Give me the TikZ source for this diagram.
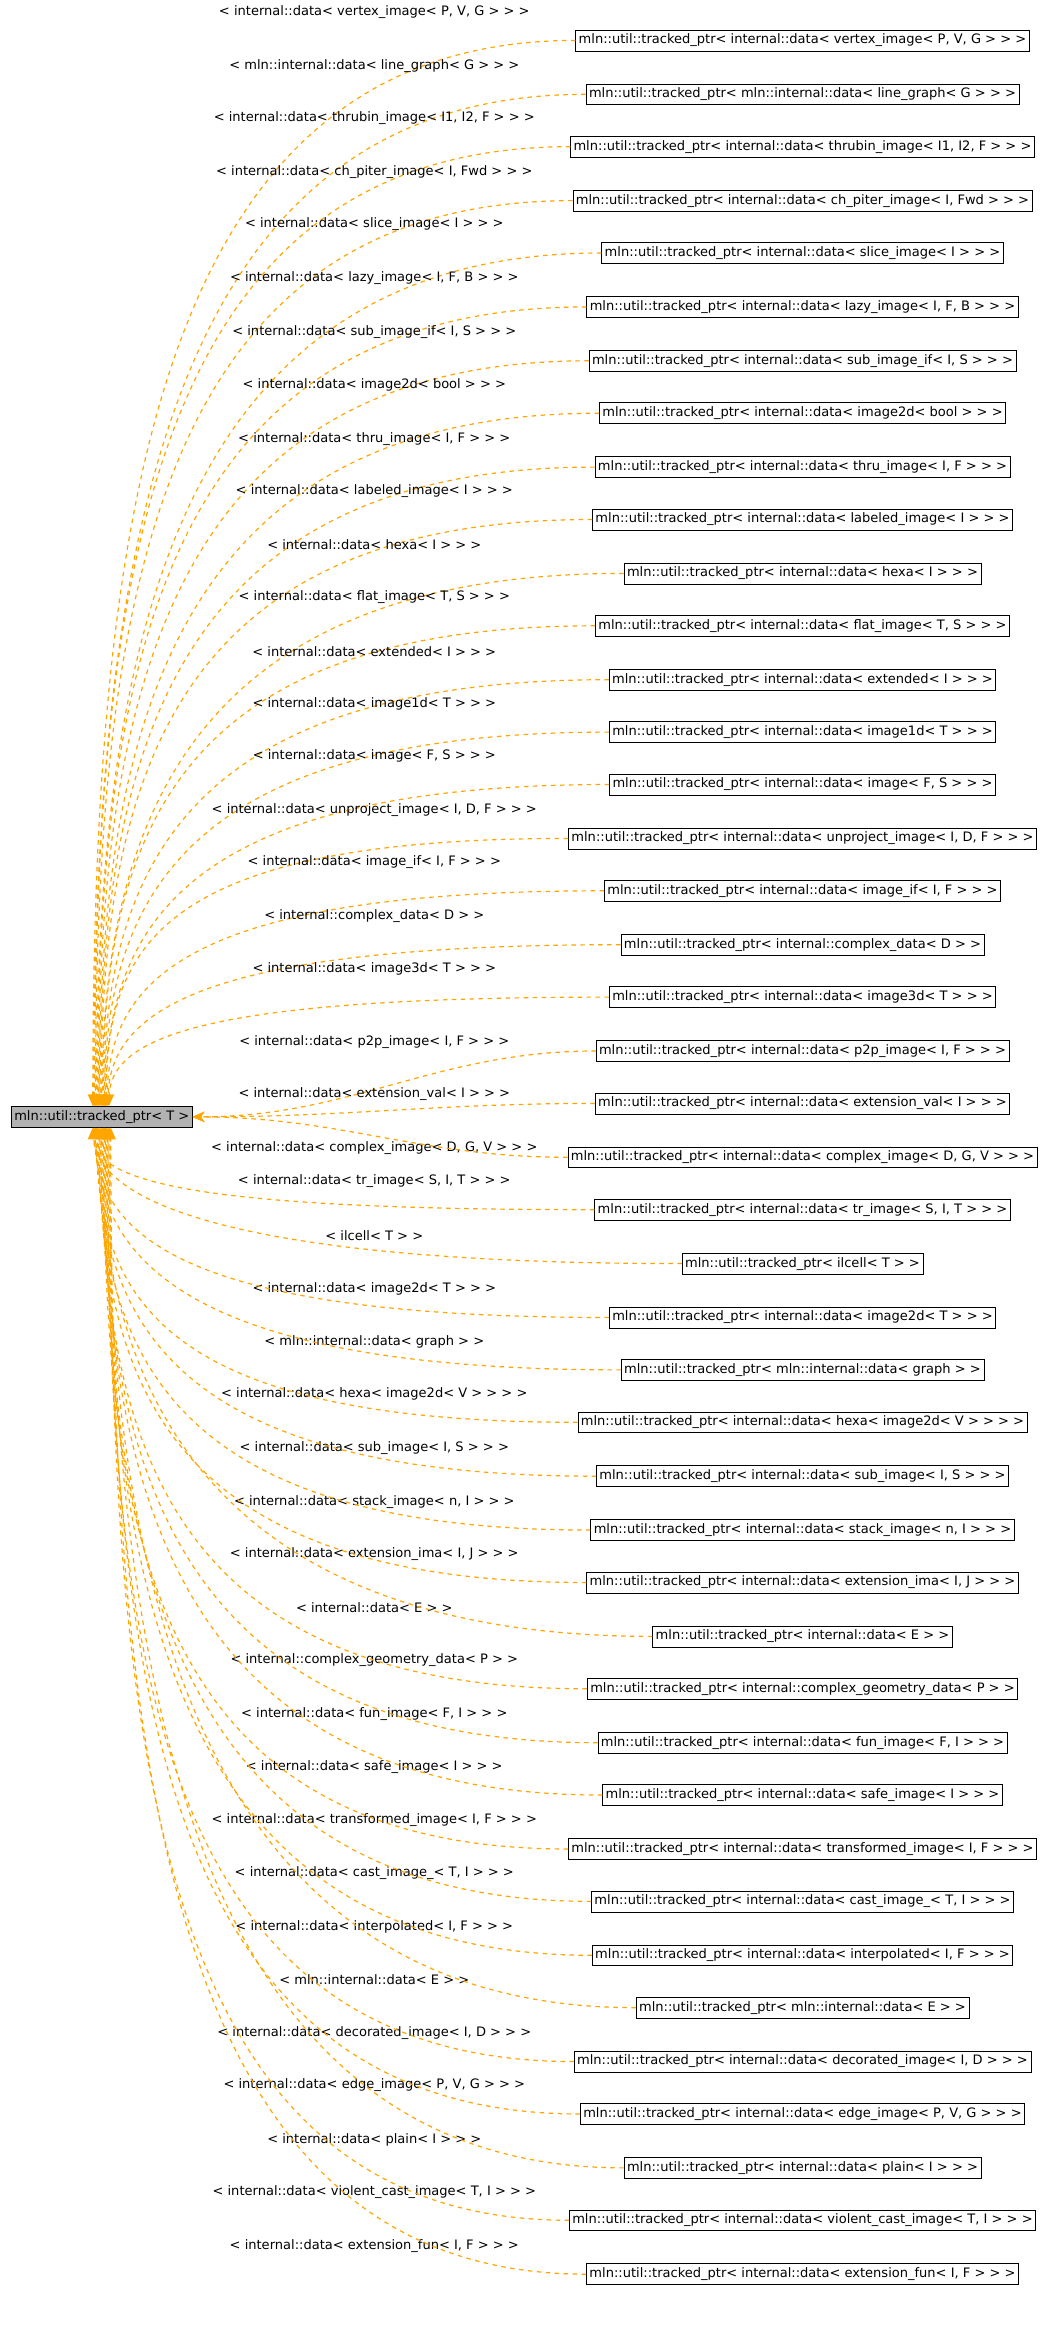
\documentclass[tikz,border=0pt]{standalone}
\usepackage{fontspec}
\setmainfont{DejaVu Sans}
\usetikzlibrary{arrows.meta}
\definecolor{edgeorange}{HTML}{FFA500}
\newcommand{\tptr}[1]{mln::util::tracked\_ptr< #1 >}
\begin{document}
\begin{tikzpicture}[x=1pt,y=-1pt,font=\fontsize{8.7}{10}\selectfont,
  classbox/.style={draw,inner sep=2pt,minimum height=14pt},
  inherit/.style={draw=edgeorange,dashed,line width=0.8pt,-{Stealth[length=8pt,width=7pt]}},
  edgelabel/.style={inner sep=1pt}]
  \useasboundingbox (0,0) rectangle (700,1571);

  \node[classbox,fill=black!30] (tracked) at (68,746) {\tptr{T}};

  \foreach \i/\y/\t in {
    1/27/{internal::data< vertex\_image< P, V, G > >},
    2/63/{mln::internal::data< line\_graph< G > >},
    3/98/{internal::data< thrubin\_image< I1, I2, F > >},
    4/134/{internal::data< ch\_piter\_image< I, Fwd > >},
    5/169/{internal::data< slice\_image< I > >},
    6/205/{internal::data< lazy\_image< I, F, B > >},
    7/241/{internal::data< sub\_image\_if< I, S > >},
    8/276/{internal::data< image2d< bool > >},
    9/312/{internal::data< thru\_image< I, F > >},
    10/347/{internal::data< labeled\_image< I > >},
    11/383/{internal::data< hexa< I > >},
    12/418/{internal::data< flat\_image< T, S > >},
    13/454/{internal::data< extended< I > >},
    14/489/{internal::data< image1d< T > >},
    15/524/{internal::data< image< F, S > >},
    16/560/{internal::data< unproject\_image< I, D, F > >},
    17/595/{internal::data< image\_if< I, F > >},
    18/631/{internal::complex\_data< D >},
    19/666/{internal::data< image3d< T > >},
    20/702/{internal::data< p2p\_image< I, F > >},
    21/737/{internal::data< extension\_val< I > >},
    22/773/{internal::data< complex\_image< D, G, V > >},
    23/808/{internal::data< tr\_image< S, I, T > >},
    24/844/{ilcell< T >},
    25/880/{internal::data< image2d< T > >},
    26/915/{mln::internal::data< graph >},
    27/950/{internal::data< hexa< image2d< V > > >},
    28/986/{internal::data< sub\_image< I, S > >},
    29/1022/{internal::data< stack\_image< n, I > >},
    30/1057/{internal::data< extension\_ima< I, J > >},
    31/1093/{internal::data< E >},
    32/1128/{internal::complex\_geometry\_data< P >},
    33/1164/{internal::data< fun\_image< F, I > >},
    34/1199/{internal::data< safe\_image< I > >},
    35/1235/{internal::data< transformed\_image< I, F > >},
    36/1270/{internal::data< cast\_image\_< T, I > >},
    37/1306/{internal::data< interpolated< I, F > >},
    38/1341/{mln::internal::data< E >},
    39/1377/{internal::data< decorated\_image< I, D > >},
    40/1412/{internal::data< edge\_image< P, V, G > >},
    41/1448/{internal::data< plain< I > >},
    42/1483/{internal::data< violent\_cast\_image< T, I > >},
    43/1519/{internal::data< extension\_fun< I, F > >}} {
    \node[classbox] (b\i) at (536,\y) {\tptr{\t}};
    \ifnum\y<700
      \node[edgelabel] (l\i) at (250,\y-19) {< \t\ >};
      \draw[inherit] (b\i.west) .. controls +(-280,0) and +(0,{-(746-\y)*0.55}) .. ([xshift={(\i-11)*0.6pt}]tracked.north);
    \else\ifnum\y<790
      \node[edgelabel] (l\i) at (250,\y-6) {< \t\ >};
      \draw[inherit] (b\i.west) to[out=180,in=0] (tracked.east);
    \else
      \node[edgelabel] (l\i) at (250,\y-19) {< \t\ >};
      \draw[inherit] (b\i.west) .. controls +(-280,0) and +(0,{(\y-746)*0.55}) .. ([xshift={(\i-33)*0.6pt}]tracked.south);
    \fi\fi
  }
\end{tikzpicture}
\end{document}
